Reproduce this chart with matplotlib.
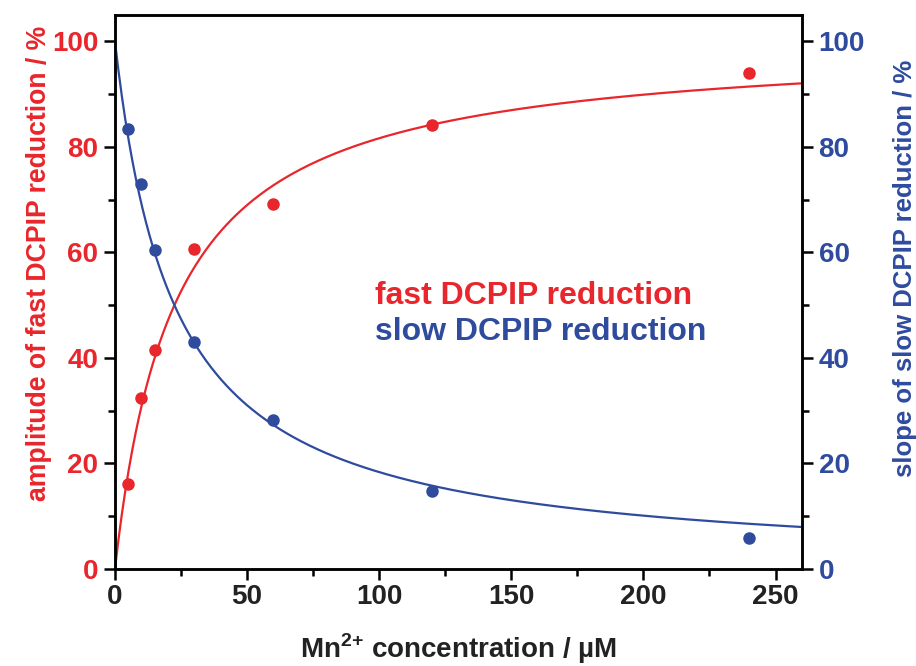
import numpy as np
import matplotlib.pyplot as plt

plt.rcParams['font.family'] = ['Liberation Sans', 'DejaVu Sans']
plt.rcParams['font.weight'] = 'bold'
plt.rcParams['mathtext.fontset'] = 'custom'
plt.rcParams['mathtext.bf'] = 'Liberation Sans:bold'
plt.rcParams['mathtext.rm'] = 'Liberation Sans:bold'

red = '#e8262b'
blue = '#2f4b9e'

# Mn2+ concentration (uM)
conc = [5, 10, 15, 30, 60, 120, 240]
fast_amp = [16.1, 32.4, 41.5, 60.6, 69.1, 84.1, 93.9]
slow_slope = [83.3, 73.0, 60.4, 43.0, 28.3, 14.8, 5.8]
# hyperbolic fit parameter (uM)
K_fit = 22.5

fig = plt.figure(figsize=(9.16, 6.66), dpi=100)
ax = fig.add_axes([0.1255, 0.1456, 0.75, 0.832])
ax2 = ax.twinx()

xf = np.linspace(0, 260, 400)
ax.plot(xf, 100 * xf / (K_fit + xf), color=red, lw=1.6)
ax.plot(conc, fast_amp, 'o', color=red, ms=8)
ax2.plot(xf, 100 * K_fit / (K_fit + xf), color=blue, lw=1.6)
ax2.plot(conc, slow_slope, 'o', color=blue, ms=8)

ax.set_xlim(0, 260)
ax.set_ylim(0, 105)
ax2.set_ylim(0, 105)
ax.set_xticks([0, 50, 100, 150, 200, 250])
ax.set_xticks([25, 75, 125, 175, 225], minor=True)
ax.set_yticks([0, 20, 40, 60, 80, 100])
ax.set_yticks([10, 30, 50, 70, 90], minor=True)
ax2.set_yticks([0, 20, 40, 60, 80, 100])
ax2.set_yticks([10, 30, 50, 70, 90], minor=True)

for a in (ax, ax2):
    for s in a.spines.values():
        s.set_linewidth(1.8)
    a.tick_params(which='major', direction='out', length=8, width=1.8, labelsize=20, pad=4)
    a.tick_params(which='minor', direction='out', length=5, width=1.8)

ax.tick_params(axis='y', labelcolor=red)
ax2.tick_params(axis='y', labelcolor=blue)
ax.tick_params(axis='x', labelcolor='#222222', top=False, pad=3)

ax.set_xlabel('Mn$^{\\mathbf{2{+}}}$ concentration / µM', fontsize=20, fontweight='bold', color='#222222')
ax.set_ylabel('amplitude of fast DCPIP reduction / %', fontsize=19.2, fontweight='bold', color=red)
ax2.set_ylabel('slope of slow DCPIP reduction / %', fontsize=18.5, fontweight='bold', color=blue)
ax.xaxis.set_label_coords(0.5, -0.113)
ax.yaxis.set_label_coords(-0.092, 0.552)
ax2.yaxis.set_label_coords(1.132, 0.543)

ax.text(0.378, 0.492, 'fast DCPIP reduction', transform=ax.transAxes, color=red,
        fontsize=23, fontweight='bold', va='center')
ax.text(0.378, 0.427, 'slow DCPIP reduction', transform=ax.transAxes, color=blue,
        fontsize=23, fontweight='bold', va='center')

plt.savefig('out.png', dpi=100)
